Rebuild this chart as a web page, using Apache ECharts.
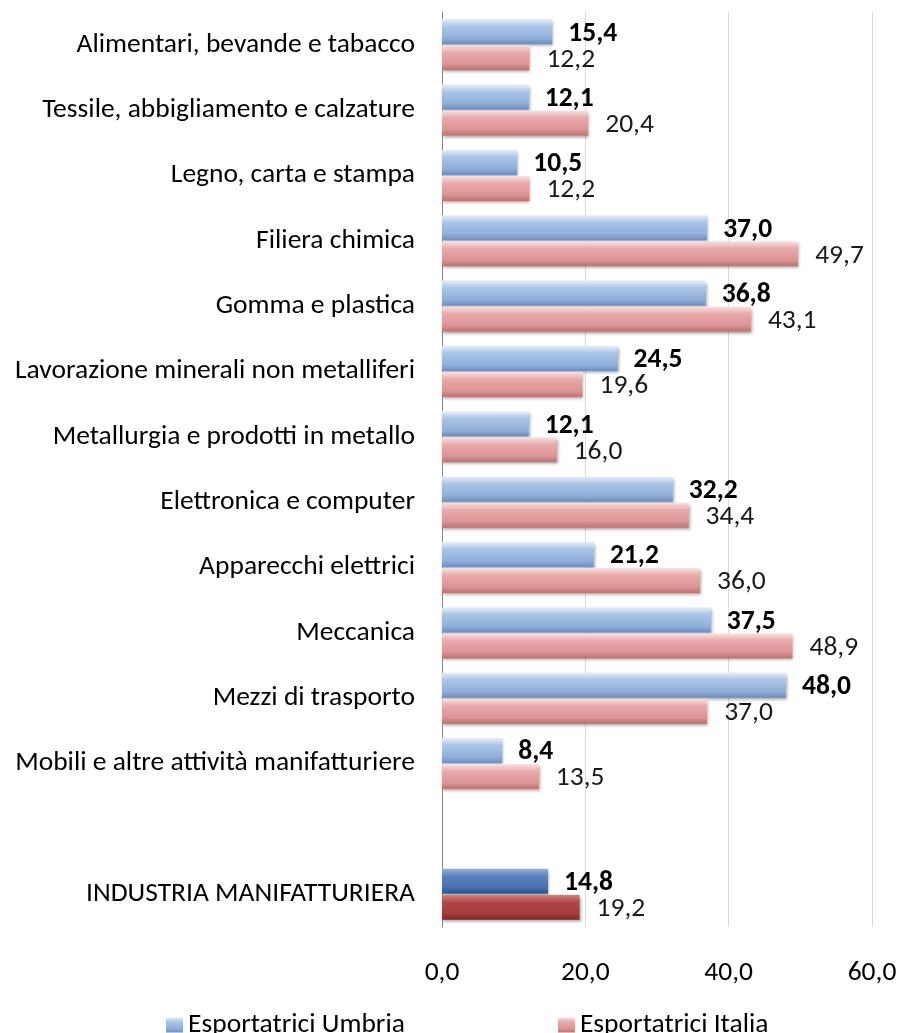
<!DOCTYPE html>
<html>
<head>
<meta charset="utf-8">
<script src="https://cdn.jsdelivr.net/npm/echarts@6/dist/echarts.min.js"></script>
<style>
  html, body { margin: 0; padding: 0; background: #fff; }
  #container { width: 902px; height: 1033px; }
</style>
</head>
<body>
<div id="container"></div>
<script>
// categorie (la riga vuota separa il totale)
var categorie = [
  'Alimentari, bevande e tabacco',
  'Tessile, abbigliamento e calzature',
  'Legno, carta e stampa',
  'Filiera chimica',
  'Gomma e plastica',
  'Lavorazione minerali non metalliferi',
  'Metallurgia e prodotti in metallo',
  'Elettronica e computer',
  'Apparecchi elettrici',
  'Meccanica',
  'Mezzi di trasporto',
  'Mobili e altre attività manifatturiere',
  '',
  'INDUSTRIA MANIFATTURIERA'
];
var umbria = [15.4, 12.1, 10.5, 37.0, 36.8, 24.5, 12.1, 32.2, 21.2, 37.5, 48.0, 8.4, null, 14.8];
var italia = [12.2, 20.4, 12.2, 49.7, 43.1, 19.6, 16.0, 34.4, 36.0, 48.9, 37.0, 13.5, null, 19.2];
var tickX = [0, 20, 40, 60];

var font = 'Carlito, Lato, sans-serif';
var fs = 27.5;

function grad(c0, c1, c2, c3) {
  return new echarts.graphic.LinearGradient(0, 0, 0, 1, [
    {offset: 0, color: c0},
    {offset: 0.3, color: c1},
    {offset: 0.75, color: c2},
    {offset: 1, color: c3}
  ]);
}
var bluGrad = grad('#e4eefa', '#a9c4e6', '#90afda', '#6d8dbd');
var rosGrad = grad('#fbe0e0', '#e9a9a9', '#dc9494', '#b97373');
var bluScuro = grad('#8fb0dc', '#5b82bd', '#4670ae', '#2f5288');
var rosScuro = grad('#d88080', '#b04848', '#a23d3d', '#7a2626');

function virgola(v) { return v.toFixed(1).replace('.', ','); }

function dati(arr, normale, totale) {
  return arr.map(function (v, i) {
    if (v === null) return '-';
    return {value: v, itemStyle: {color: i === arr.length - 1 ? totale : normale}};
  });
}

var dom = document.getElementById('container');
var myChart = echarts.init(dom);
var option = {
  animation: false,
  grid: {left: 442, right: 30, top: 12, bottom: 106},
  xAxis: {
    type: 'value',
    min: 0, max: 60, interval: 20,
    axisLine: {show: false},
    axisTick: {show: false},
    splitLine: {lineStyle: {color: '#d9d9d9', width: 1}},
    axisLabel: {
      margin: 32, fontFamily: font, fontSize: fs, color: '#000',
      formatter: function (v) { return tickX.indexOf(v) >= 0 ? virgola(v) : ''; }
    }
  },
  yAxis: {
    type: 'category',
    inverse: true,
    data: categorie,
    axisLine: {lineStyle: {color: '#868686'}},
    axisTick: {length: 6, lineStyle: {color: '#868686'}},
    axisLabel: {margin: 27, fontFamily: font, fontSize: fs, color: '#000'}
  },
  legend: {
    left: 161, top: 1006,
    itemWidth: 17, itemHeight: 15, itemGap: 153,
    icon: 'rect',
    textStyle: {fontFamily: font, fontSize: fs, color: '#000'},
    data: [
      {name: 'Esportatrici Umbria', itemStyle: {color: bluGrad}},
      {name: 'Esportatrici Italia', itemStyle: {color: rosGrad}}
    ]
  },
  series: [
    {
      name: 'Esportatrici Umbria',
      type: 'bar',
      barWidth: 25,
      barGap: '4%',
      data: dati(umbria, bluGrad, bluScuro),
      itemStyle: {color: bluGrad, shadowBlur: 3, shadowColor: 'rgba(0,0,0,0.35)', shadowOffsetX: 1, shadowOffsetY: 2},
      label: {
        show: true, position: 'right', distance: 5, offset: [11, 2],
        fontFamily: font, fontSize: fs, fontWeight: 'bold', color: '#000',
        formatter: function (p) { return virgola(p.value); }
      }
    },
    {
      name: 'Esportatrici Italia',
      type: 'bar',
      barWidth: 25,
      data: dati(italia, rosGrad, rosScuro),
      itemStyle: {color: rosGrad, shadowBlur: 3, shadowColor: 'rgba(0,0,0,0.35)', shadowOffsetX: 1, shadowOffsetY: 2},
      label: {
        show: true, position: 'right', distance: 5, offset: [12, 2],
        fontFamily: font, fontSize: fs, color: '#1a1a1a',
        formatter: function (p) { return virgola(p.value); }
      }
    }
  ]
};
if (option && typeof option === 'object') {
  myChart.setOption(option, true);
}
</script>
</body>
</html>
